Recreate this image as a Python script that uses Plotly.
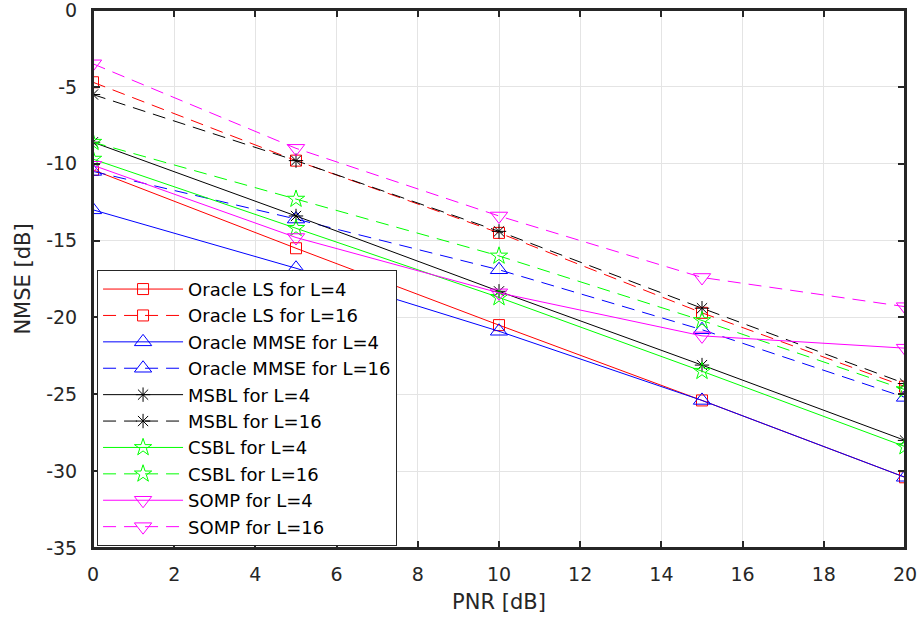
import plotly.graph_objects as go

pnr = [0, 5, 10, 15, 20]

ls_L4 = [-10.4, -15.5, -20.5, -25.4, -30.4]
ls_L16 = [-4.7, -9.8, -14.5, -19.7, -24.5]
mmse_L4 = [-13.0, -16.8, -20.9, -25.4, -30.4]
mmse_L16 = [-10.5, -13.6, -16.9, -20.8, -25.2]
msbl_L4 = [-8.6, -13.4, -18.3, -23.1, -28.0]
msbl_L16 = [-5.5, -9.8, -14.4, -19.4, -24.3]
csbl_L4 = [-9.7, -14.2, -18.7, -23.5, -28.4]
csbl_L16 = [-8.6, -12.3, -16.0, -20.2, -24.7]
somp_L4 = [-10.1, -14.8, -18.4, -21.2, -22.0]
somp_L16 = [-3.5, -9.0, -13.4, -17.4, -19.3]

x_ticks = [0, 2, 4, 6, 8, 10, 12, 14, 16, 18, 20]
y_ticks = [0, -5, -10, -15, -20, -25, -30, -35]
y_tick_labels = ["0", "-5", "-10", "-15", "-20", "-25", "-30", "-35"]

series = [
    ("Oracle LS for L=4", ls_L4, "#ff0000", "solid", "square-open", 11),
    ("Oracle LS for L=16", ls_L16, "#ff0000", "13px,8px", "square-open", 11),
    ("Oracle MMSE for L=4", mmse_L4, "#0000ff", "solid", "triangle-up-open", 15),
    ("Oracle MMSE for L=16", mmse_L16, "#0000ff", "13px,8px", "triangle-up-open", 15),
    ("MSBL for L=4", msbl_L4, "#000000", "solid", "asterisk-open", 12),
    ("MSBL for L=16", msbl_L16, "#000000", "13px,8px", "asterisk-open", 12),
    ("CSBL for L=4", csbl_L4, "#00ff00", "solid", "star-open", 13),
    ("CSBL for L=16", csbl_L16, "#00ff00", "13px,8px", "star-open", 13),
    ("SOMP for L=4", somp_L4, "#ff00ff", "solid", "triangle-down-open", 15),
    ("SOMP for L=16", somp_L16, "#ff00ff", "13px,8px", "triangle-down-open", 15),
]

fig = go.Figure()
for name, y, color, dash, sym, size in series:
    fig.add_trace(go.Scatter(
        x=pnr, y=y, name=name, mode="lines+markers",
        line=dict(color=color, width=1, dash=dash),
        marker=dict(symbol=sym, size=size, color=color,
                    line=dict(color=color, width=1)),
    ))

FONT = "DejaVu Sans"
axis_common = dict(
    showgrid=True, gridcolor="#e4e4e4", gridwidth=1,
    showline=True, linecolor="#262626", linewidth=2, mirror="ticks",
    ticks="inside", ticklen=7, tickcolor="#262626", tickwidth=1.5,
    zeroline=False, automargin=False, ticklabeloverflow="allow",
    tickfont=dict(family=FONT, size=19, color="#262626"),
)

fig.update_layout(
    width=920, height=619,
    margin=dict(l=93, r=15, t=10, b=71),
    paper_bgcolor="white", plot_bgcolor="white",
    font=dict(family=FONT, color="#262626"),
    xaxis=dict(range=[0, 20], tickmode="array", tickvals=x_ticks,
               ticklabelstandoff=8,
               title=dict(text="PNR [dB]", font=dict(size=21), standoff=11),
               **axis_common),
    yaxis=dict(range=[-35, 0], tickmode="array", tickvals=y_ticks,
               ticktext=y_tick_labels, ticklabelstandoff=10,
               title=dict(text="NMSE [dB]", font=dict(size=21), standoff=10),
               **axis_common),
    legend=dict(
        x=0.005, y=0.004, xanchor="left", yanchor="bottom",
        bgcolor="white", bordercolor="#262626", borderwidth=1,
        font=dict(size=18, color="#000000"),
        itemwidth=80, tracegroupgap=0,
    ),
    showlegend=True,
    shapes=[dict(type="rect", xref="paper", yref="paper",
                 x0=0, x1=1, y0=0, y1=1,
                 line=dict(color="#262626", width=2), layer="above")],
)

fig.write_html(
    "out.html",
    config={"displayModeBar": False},
    post_script="document.body.style.margin='0';document.body.style.padding='0';",
)
